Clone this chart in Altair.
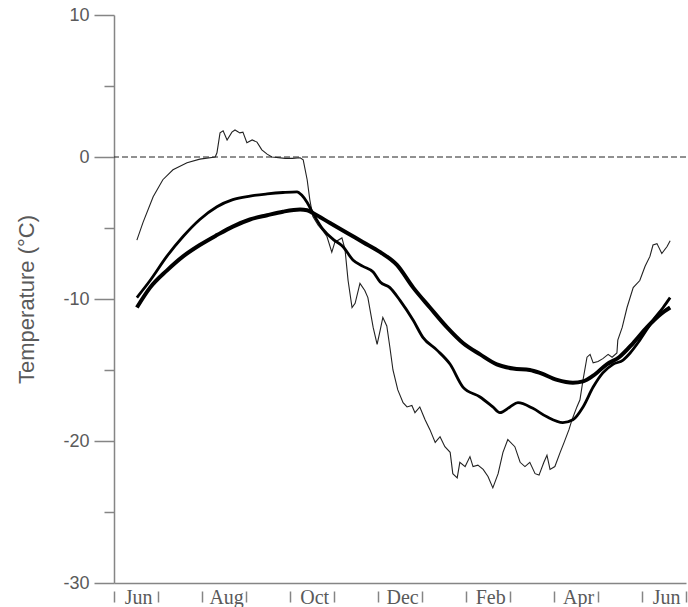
import altair as alt
import pandas as pd

# Time axis in months: 0 = 1 June, 13 = 1 July of the following year

# Daily record (thin, ragged line)
thin_month = [0.52, 0.66, 0.89, 1.11, 1.34, 1.66, 1.95, 2.30, 2.34, 2.41, 2.48, 2.57,
              2.68, 2.75, 2.86, 2.93, 3.02, 3.14, 3.25, 3.36, 3.48, 3.59, 3.89, 4.05,
              4.23, 4.30, 4.39, 4.45, 4.52, 4.64, 4.75, 4.84, 4.95, 5.02, 5.18, 5.25,
              5.32, 5.41, 5.48, 5.59, 5.70, 5.77, 5.89, 5.98, 6.05, 6.11, 6.20, 6.27,
              6.34, 6.45, 6.57, 6.66, 6.77, 6.84, 6.95, 7.07, 7.18, 7.30, 7.41, 7.52,
              7.64, 7.70, 7.80, 7.86, 7.98, 8.09, 8.16, 8.27, 8.39, 8.50, 8.61, 8.73,
              8.84, 8.95, 9.11, 9.23, 9.34, 9.45, 9.57, 9.66, 9.77, 9.84, 9.91, 10.02,
              10.14, 10.23, 10.34, 10.41, 10.52, 10.59, 10.66, 10.75, 10.82, 10.89, 11.00,
              11.11, 11.23, 11.32, 11.43, 11.45, 11.55, 11.66, 11.80, 11.95, 12.07, 12.18,
              12.25, 12.34, 12.45, 12.57, 12.64]
thin_temp = [-5.85, -4.6, -2.8, -1.6, -0.9, -0.4, -0.15, 0.0, 0.3, 1.7, 1.85, 1.2,
             1.75, 1.9, 1.7, 1.75, 1.0, 1.2, 1.05, 0.5, 0.2, 0.0, -0.1, -0.1,
             -0.05, -0.2, -1.6, -3.0, -4.2, -4.8, -5.2, -5.6, -6.7, -6.0, -5.7, -6.5,
             -8.7, -10.6, -10.3, -8.9, -9.4, -9.9, -12.0, -13.2, -12.2, -11.3, -11.9, -13.4,
             -15.0, -16.4, -17.3, -17.6, -17.5, -18.0, -17.6, -18.5, -19.2, -20.1, -19.7, -20.4,
             -20.8, -22.3, -22.6, -21.5, -21.8, -21.1, -21.8, -21.7, -22.0, -22.5, -23.3, -22.3,
             -20.8, -19.9, -20.4, -21.5, -21.8, -21.5, -22.3, -22.4, -21.5, -21.0, -22.0, -21.8,
             -20.8, -20.1, -19.2, -18.5, -17.6, -17.1, -15.7, -14.1, -13.9, -14.5, -14.4,
             -14.2, -13.9, -14.1, -13.8, -12.9, -12.0, -10.6, -9.2, -8.7, -7.7, -7.0,
             -6.2, -6.1, -6.8, -6.3, -5.9]

# Medium smoothed series
mid_month = [0.52, 0.82, 1.20, 1.57, 1.95, 2.34, 2.70, 3.09, 3.48, 3.84, 4.16, 4.27,
             4.39, 4.52, 4.75, 4.98, 5.20, 5.43, 5.66, 5.89, 6.05, 6.27, 6.50, 6.80,
             7.02, 7.34, 7.64, 7.93, 8.32, 8.61, 8.77, 9.00, 9.18, 9.52, 9.84, 10.20,
             10.43, 10.66, 10.89, 11.11, 11.34, 11.57, 11.73, 11.95, 12.25, 12.48, 12.64]
mid_temp = [-9.9, -8.7, -7.0, -5.6, -4.4, -3.5, -3.0, -2.75, -2.6, -2.5, -2.45, -2.7,
            -3.2, -3.95, -5.1, -5.8, -6.3, -7.25, -7.7, -8.1, -8.8, -9.2, -10.1, -11.5,
            -12.7, -13.6, -14.6, -16.2, -16.9, -17.6, -18.0, -17.6, -17.3, -17.7, -18.3, -18.7,
            -18.5, -17.6, -16.2, -15.2, -14.6, -14.3, -13.8, -12.9, -11.5, -10.6, -9.9]

# Heaviest smoothed series
thick_month = [0.52, 0.82, 1.20, 1.57, 1.95, 2.34, 2.70, 3.09, 3.48, 3.84, 4.23, 4.39,
               4.52, 4.91, 5.30, 5.66, 6.05, 6.43, 6.80, 7.18, 7.57, 7.93, 8.32, 8.70,
               9.07, 9.45, 9.68, 10.07, 10.43, 10.66, 10.89, 11.20, 11.48, 11.80, 12.11,
               12.41, 12.64]
thick_temp = [-10.6, -9.2, -8.0, -7.0, -6.2, -5.5, -4.9, -4.4, -4.1, -3.85, -3.7, -3.75,
              -3.95, -4.65, -5.35, -6.0, -6.7, -7.6, -9.2, -10.6, -12.0, -13.1, -13.9, -14.6,
              -14.9, -15.0, -15.2, -15.7, -15.9, -15.8, -15.4, -14.6, -14.1, -13.1, -12.0,
              -11.1, -10.6]

month_names = ["Jun", "Aug", "Oct", "Dec", "Feb", "Apr", "Jun"]
month_start = [0, 2, 4, 6, 8, 10, 12]
month_edges = list(range(14))
y_ticks = [10, 5, 0, -5, -10, -15, -20, -25, -30]

AXIS_GREY = "#858585"
TEXT_GREY = "#5a5a5a"

x_scale = alt.Scale(domain=[0, 13], nice=False, zero=False)
y_scale = alt.Scale(domain=[-30, 10], nice=False, zero=False)

x_axis = alt.Axis(
    values=month_edges, labels=False, title=None, grid=False,
    domainColor=AXIS_GREY, domainWidth=1.5,
    tickColor=AXIS_GREY, tickWidth=1.5, tickSize=19,
    tickDash=[11, 8], tickDashOffset=11,
)
y_axis = alt.Axis(
    values=y_ticks, grid=False, title="Temperature (°C)",
    labelExpr="datum.value % 10 == 0 ? '' + datum.value : ''",
    labelFont="Liberation Sans", labelFontSize=18, labelColor=TEXT_GREY, labelPadding=5,
    domainColor=AXIS_GREY, domainWidth=1.5,
    tickColor=AXIS_GREY, tickWidth=1.5, tickSize=20,
    tickDash={"condition": {"test": "datum.value % 10 != 0", "value": [10, 10]}, "value": [1, 0]},
    titleFont="Liberation Sans", titleFontSize=22, titleFontWeight="normal",
    titleColor=TEXT_GREY, titlePadding=24,
)

thin_df = pd.DataFrame({"month": thin_month, "temp": thin_temp})
mid_df = pd.DataFrame({"month": mid_month, "temp": mid_temp})
thick_df = pd.DataFrame({"month": thick_month, "temp": thick_temp})
zero_df = pd.DataFrame({"temp": [0]})
label_df = pd.DataFrame({"name": month_names, "start": month_start})

x_enc = alt.X("month:Q", scale=x_scale, axis=x_axis)
y_enc = alt.Y("temp:Q", scale=y_scale, axis=y_axis)

zero_line = alt.Chart(zero_df).mark_rule(
    color="#222222", strokeWidth=1, strokeDash=[6, 3]
).encode(y=alt.Y("temp:Q", scale=y_scale))

thin_line = alt.Chart(thin_df).mark_line(
    color="#222222", strokeWidth=1.1
).encode(x=x_enc, y=y_enc, order="month:Q")

mid_line = alt.Chart(mid_df).mark_line(
    color="black", strokeWidth=2.8, interpolate="monotone"
).encode(x=x_enc, y=y_enc, order="month:Q")

thick_line = alt.Chart(thick_df).mark_line(
    color="black", strokeWidth=4, interpolate="monotone"
).encode(x=x_enc, y=y_enc, order="month:Q")

# Month names sit between the boundary ticks of each labelled month
month_labels = alt.Chart(label_df).transform_calculate(
    mid="datum.start + 0.56", bottom="-30"
).mark_text(
    font="Liberation Serif", fontSize=20, color=TEXT_GREY,
    align="center", baseline="alphabetic", dy=21,
).encode(
    x=alt.X("mid:Q", scale=x_scale),
    y=alt.Y("bottom:Q", scale=y_scale),
    text="name:N",
)

chart = alt.layer(
    zero_line, thin_line, mid_line, thick_line, month_labels
).properties(
    width=572, height=568,
    padding={"left": 114, "top": 15, "right": 2, "bottom": 24},
    autosize="none", background="white",
).configure_view(stroke=None)

chart.save("out.html", embed_options={"renderer": "svg", "actions": False})
